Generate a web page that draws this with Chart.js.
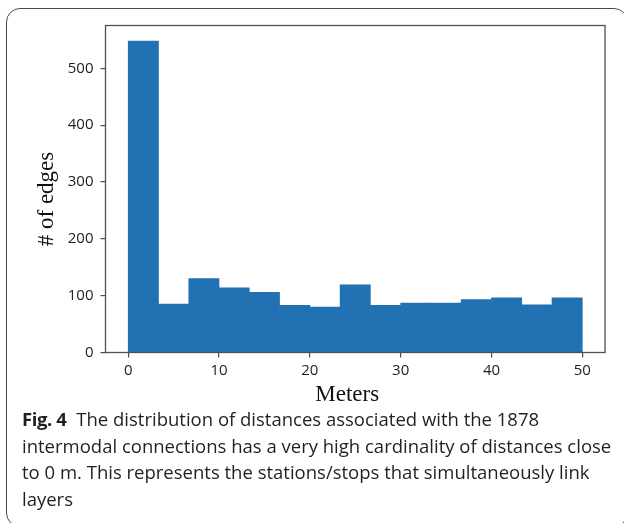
<!DOCTYPE html>
<html>
<head>
<meta charset="utf-8">
<script src="https://cdn.jsdelivr.net/npm/chart.js@4.4.1/dist/chart.umd.min.js"></script>
<style>
    html, body { margin: 0; padding: 0; background: #fff; }
    body { width: 624px; height: 523px; position: relative; overflow: hidden; }
    .fig-box {
        position: absolute; left: 6px; top: 8px; width: 622px; height: 519px;
        border: 1.5px solid #4a4a4a; border-radius: 14px; box-sizing: border-box;
    }
    .chart-wrap { position: absolute; left: 0; top: 0; width: 624px; height: 420px; }
    .caption {
        position: absolute; left: 22px; top: 406px; width: 600px;
        font-family: "Open Sans", sans-serif; font-size: 18.5px; line-height: 26.5px;
        color: #231f20; letter-spacing: 0; white-space: nowrap;
    }
    .caption b { font-weight: 700; margin-right: 5px; letter-spacing: -0.4px; }
</style>
</head>
<body>
<div class="fig-box"></div>
<div class="chart-wrap"><canvas id="histChart" width="624" height="420"></canvas></div>
<div class="caption">
    <b>Fig. 4</b> The distribution of distances associated with the 1878<br>
    intermodal connections has a very high cardinality of distances close<br>
    to 0 m. This represents the stations/stops that simultaneously link<br>
    layers
</div>
<script>
// Histogram of intermodal connection distances (15 bins, 0-50 m)
const binEdges = [0, 10/3, 20/3, 10, 40/3, 50/3, 20, 70/3, 80/3, 30, 100/3, 110/3, 40, 130/3, 140/3, 50];
const edgeCounts = [548, 85, 130, 114, 106, 83, 80, 119, 83, 87, 87, 93, 96, 84, 96];
const xTicks = [0, 10, 20, 30, 40, 50];
const yTicks = [0, 100, 200, 300, 400, 500];
const xTitle = 'Meters';
const yTitle = '# of edges';

const barColor = '#2271b3';
const axisColor = '#505050';
const tickFont = { family: '"Open Sans", sans-serif', size: 15 };

const histData = edgeCounts.map((count, i) => ({
    x: (binEdges[i] + binEdges[i + 1]) / 2,
    y: count
}));

// matplotlib-style 5% margins around the data
const xSpan = binEdges[binEdges.length - 1] - binEdges[0];
const xMin = binEdges[0] - xSpan * 0.05;
const xMax = binEdges[binEdges.length - 1] + xSpan * 0.05;
const yMax = Math.max(...edgeCounts) * 1.05;

// box around the plot area + serif axis titles
const framePlugin = {
    id: 'frame',
    afterDraw(chart) {
        const { ctx, chartArea: a } = chart;
        ctx.save();
        ctx.strokeStyle = axisColor;
        ctx.lineWidth = 1.3;
        ctx.strokeRect(a.left, a.top, a.right - a.left, a.bottom - a.top);

        ctx.fillStyle = '#111';
        ctx.font = '23px "Liberation Serif", serif';
        ctx.textAlign = 'center';
        ctx.textBaseline = 'alphabetic';
        ctx.fillText(xTitle, (a.left + a.right) / 2 - 8, 401);

        ctx.translate(47, 199);
        ctx.rotate(-Math.PI / 2);
        ctx.textBaseline = 'middle';
        ctx.fillText(yTitle, 0, 0);
        ctx.restore();
    }
};

new Chart(document.getElementById('histChart').getContext('2d'), {
    type: 'bar',
    data: {
        datasets: [{
            data: histData,
            backgroundColor: barColor,
            borderWidth: 0,
            barPercentage: 1,
            categoryPercentage: 1
        }]
    },
    options: {
        responsive: false,
        animation: false,
        layout: { padding: { left: 0, top: 25.5, right: 19, bottom: 0 } },
        plugins: { legend: { display: false }, tooltip: { enabled: false } },
        scales: {
            x: {
                type: 'linear',
                offset: false,
                min: xMin,
                max: xMax,
                afterBuildTicks: (s) => { s.ticks = xTicks.map(v => ({ value: v })); },
                afterFit: (s) => { s.height = 420 - 352.5; },
                ticks: { color: '#222', font: tickFont, padding: 4, maxRotation: 0 },
                grid: { offset: false, drawOnChartArea: false, drawTicks: true, tickLength: 5, color: axisColor, lineWidth: 1.2 },
                border: { display: false }
            },
            y: {
                min: 0,
                max: yMax,
                afterBuildTicks: (s) => { s.ticks = yTicks.map(v => ({ value: v })); },
                afterFit: (s) => { s.width = 105.5; },
                ticks: { color: '#222', font: tickFont, padding: 7 },
                grid: { offset: false, drawOnChartArea: false, drawTicks: true, tickLength: 5, color: axisColor, lineWidth: 1.2 },
                border: { display: false }
            }
        }
    },
    plugins: [framePlugin]
});
</script>
</body>
</html>
